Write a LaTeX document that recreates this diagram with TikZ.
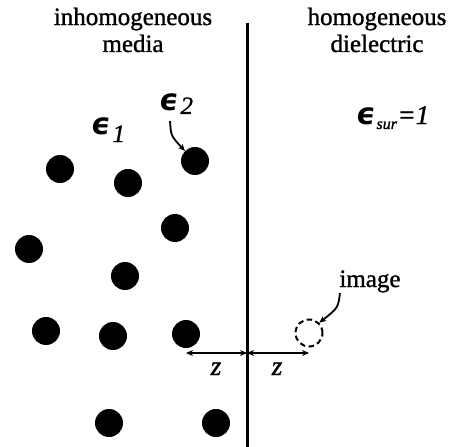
\documentclass[tikz,border=0pt]{standalone}
\usepackage{fontspec}
\setmainfont{Liberation Serif}
\newfontfamily\tnr[FakeBold=1.2]{Liberation Serif}
\newfontfamily\dvs[FakeSlant=0.12]{DejaVu Sans Bold}
\usetikzlibrary{arrows.meta}
\newcommand{\eps}{{\dvs\fontsize{30}{30}\selectfont\char"03F5}}
\begin{document}
\begin{tikzpicture}[x=1pt,y=-1pt,
  dot/.style={circle,fill=black,inner sep=0pt,minimum size=28pt},
  ghost/.style={circle,draw=black,line width=2pt,dash pattern=on 5.5pt off 3.5pt,inner sep=0pt,minimum size=27pt},
  lbl/.style={inner sep=0pt,font=\tnr\fontsize{25}{30}\selectfont,align=center},
  conn/.style={line width=1.8pt,-{Stealth[length=7pt,width=6pt]}},
  dim/.style={line width=1.8pt,{Stealth[length=7pt,width=6pt]}-{Stealth[length=7pt,width=6pt]}},
  zl/.style={inner sep=0pt,font=\tnr\fontsize{27}{27}\selectfont\itshape}]
\useasboundingbox (0,0) rectangle (456,447);
% headings
\node[lbl,anchor=base] (h1) at (133,25) {inhomogeneous};
\node[lbl,anchor=base] (h2) at (133,52) {media};
\node[lbl,anchor=base] (h3) at (377,25) {homogeneous};
\node[lbl,anchor=base] (h4) at (377,52) {dielectric};
% interface
\coordinate (top) at (247,23);
\coordinate (bot) at (247,447);
\draw[line width=3pt] (top) -- (bot);
% dots
\node[dot] (d1) at (60,169) {};
\node[dot] (d2) at (128,183) {};
\node[dot] (d3) at (195,161) {};
\node[dot] (d4) at (175,228) {};
\node[dot] (d5) at (29,249) {};
\node[dot] (d6) at (125,276) {};
\node[dot] (d7) at (46,331) {};
\node[dot] (d8) at (113,336) {};
\node[dot] (d9) at (186,334) {};
\node[dot] (d10) at (109,423) {};
\node[dot] (d11) at (216,423) {};
% image charge
\node[ghost] (img) at (309,333) {};
% labels
\node[inner sep=0pt,anchor=base west] (e1) at (90,134) {\eps\kern3pt\raisebox{-8pt}{\tnr\fontsize{25}{25}\selectfont\itshape 1}};
\node[inner sep=0pt,anchor=base west] (e2) at (158,110) {\eps\kern3pt\raisebox{-4pt}{\tnr\fontsize{25}{25}\selectfont\itshape 2}};
\node[inner sep=0pt,anchor=base west] (es) at (355,124) {\eps\kern2pt\raisebox{-5pt}{\tnr\fontsize{16}{16}\selectfont\itshape sur}\kern0.5pt{\tnr\fontsize{27}{27}\selectfont\itshape =1}};
\node[lbl,anchor=base] (il) at (370,287) {image};
% connectors
\coordinate (e2s) at (170,121);
\draw[conn] (e2s) .. controls (171,136) .. (d3.north west);
\coordinate (ils) at (340,293);
\draw[conn] (ils) .. controls (338,308) .. (img.north east);
\coordinate (a) at (186,353);
\coordinate (b) at (247,353);
\coordinate (c) at (309,353);
\draw[dim] (a) -- (b);
\draw[dim] (b) -- (c);
\node[zl,anchor=base] (z1) at (216,375) {z};
\node[zl,anchor=base] (z2) at (277,375) {z};
\end{tikzpicture}
\end{document}
